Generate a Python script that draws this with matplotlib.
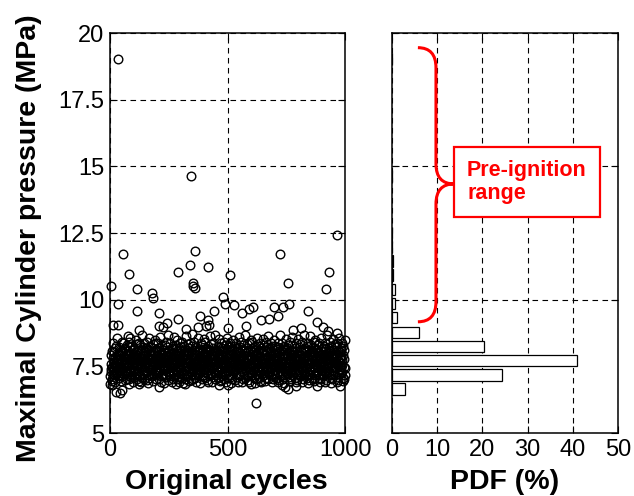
import numpy as np
import matplotlib
matplotlib.use("Agg")
import matplotlib.pyplot as plt
from matplotlib.path import Path
from matplotlib.patches import PathPatch

plt.rcParams['font.family'] = ['Liberation Sans', 'DejaVu Sans']

# ---------------- data ----------------
# Peak pressure of the normal-combustion band, cycles 1..1000 (MPa)
band_pressure = [
    7.14, 6.83, 7.41, 7.92, 7.27, 7.58, 6.95, 8.06, 7.03, 7.49, 7.81, 7.22, 7.36, 8.37, 7.68, 7.44, 7.61, 8.02, 7.19, 7.53, 6.91, 7.84, 8.17, 7.72, 7.28,
    7.63, 8.26, 7.24, 7.87, 7.52, 8.58, 7.13, 7.74, 7.97, 7.42, 7.79, 7.06, 8.21, 7.57, 7.33, 7.93, 8.12, 7.46, 7.18, 7.69, 8.08, 6.94, 7.83, 7.39, 8.43,
    7.71, 7.34, 8.03, 7.47, 7.88, 7.12, 8.36, 7.64, 7.23, 7.77, 8.14, 7.38, 7.66, 6.97, 8.19, 7.54, 7.91, 7.26, 8.09, 7.59, 7.02, 8.31, 7.82, 7.43, 8.62,
    8.07, 7.51, 7.21, 7.94, 8.41, 7.62, 7.04, 7.76, 8.23, 7.29, 7.73, 8.56, 7.37, 7.86, 7.11, 8.01, 7.57, 7.48, 8.28, 7.17, 7.84, 7.67, 6.93, 8.13, 7.44,
    7.36, 7.89, 8.18, 7.09, 7.63, 7.98, 7.31, 7.79, 8.47, 7.52, 7.24, 7.68, 8.11, 7.56, 7.01, 7.92, 8.33, 7.41, 7.77, 7.54, 8.06, 7.16, 6.96, 8.39, 7.71,
    7.83, 7.18, 7.61, 8.29, 6.92, 7.47, 8.12, 7.88, 7.42, 8.66, 7.69, 7.07, 7.53, 7.99, 7.32, 7.81, 8.24, 7.58, 7.03, 8.38, 7.21, 7.94, 8.09, 7.37, 7.73,
    7.48, 8.04, 7.66, 7.27, 8.17, 7.87, 6.98, 7.62, 8.42, 7.19, 7.76, 6.89, 8.14, 7.51, 7.43, 8.57, 7.72, 7.08, 7.91, 8.26, 7.59, 7.38, 8.07, 7.82, 7.23,
    8.21, 7.57, 7.14, 7.79, 7.36, 8.08, 7.93, 6.94, 7.46, 8.32, 7.68, 7.22, 8.02, 7.64, 8.49, 7.31, 7.83, 7.54, 8.37, 7.04, 7.88, 7.17, 7.74, 8.13, 7.41,
    7.27, 7.92, 8.38, 7.58, 7.24, 7.81, 8.06, 7.49, 7.02, 8.19, 7.66, 7.37, 8.61, 7.86, 7.12, 7.63, 7.97, 7.78, 6.91, 7.52, 8.27, 7.71, 7.18, 8.11, 7.44,
    7.94, 7.39, 7.68, 8.12, 7.47, 6.88, 8.29, 7.82, 7.16, 7.61, 8.03, 7.09, 7.87, 8.41, 7.33, 7.74, 8.22, 7.53, 7.42, 8.07, 6.99, 7.77, 8.68, 7.57, 7.21,
    7.62, 8.09, 7.28, 7.51, 8.36, 7.84, 7.13, 7.91, 7.96, 7.19, 7.72, 8.17, 6.93, 7.58, 7.38, 8.27, 7.79, 7.46, 7.04, 8.14, 7.67, 7.23, 8.59, 7.89, 7.41,
    7.98, 7.54, 7.76, 7.17, 7.92, 8.31, 7.36, 7.63, 8.08, 7.02, 7.69, 8.48, 7.29, 7.81, 7.11, 7.87, 8.19, 7.57, 7.43, 6.92, 8.13, 7.49, 7.73, 8.39, 7.24,
    7.42, 8.21, 7.71, 7.99, 7.07, 7.59, 7.88, 8.43, 7.26, 7.83, 6.87, 7.52, 8.06, 7.18, 7.93, 8.28, 7.64, 7.03, 7.68, 8.12, 7.47, 8.63, 7.37, 7.79, 7.22,
    7.74, 7.12, 8.11, 7.48, 7.81, 8.33, 7.17, 7.91, 7.62, 8.02, 7.39, 6.94, 8.18, 7.66, 7.32, 7.77, 8.37, 7.54, 6.98, 7.89, 8.07, 7.58, 7.21, 8.71, 7.43,
    8.27, 7.61, 7.38, 7.86, 7.04, 8.13, 7.72, 7.19, 8.41, 7.46, 7.83, 7.97, 7.08, 7.57, 8.22, 7.41, 6.91, 7.94, 8.09, 7.69, 7.28, 7.53, 8.58, 7.78, 7.16,
    7.23, 7.79, 8.04, 7.49, 8.16, 7.31, 7.88, 7.56, 8.12, 6.89, 7.67, 8.38, 7.44, 7.82, 7.01, 8.29, 7.52, 7.93, 7.18, 8.06, 7.63, 7.36, 7.74, 8.52, 7.09,
    7.87, 7.29, 7.64, 8.41, 7.68, 7.06, 8.14, 7.47, 7.84, 8.19, 6.97, 7.59, 7.91, 8.02, 7.37, 6.93, 8.26, 7.73, 7.22, 7.54, 8.08, 7.81, 7.42, 8.63, 7.17,
    7.52, 8.12, 7.77, 7.19, 8.32, 7.66, 7.43, 7.98, 6.92, 7.89, 7.61, 8.17, 7.11, 7.48, 8.39, 7.83, 7.27, 7.57, 8.06, 7.03, 7.92, 7.24, 8.69, 7.71, 7.38,
    8.09, 7.72, 7.17, 7.93, 7.46, 8.03, 7.39, 8.27, 7.62, 7.08, 7.81, 8.51, 7.32, 7.67, 7.88, 6.94, 8.22, 7.53, 7.41, 8.13, 7.58, 6.99, 7.76, 8.36, 7.21,
    7.59, 7.43, 8.18, 7.84, 7.12, 7.91, 8.07, 7.47, 7.28, 8.42, 7.73, 7.02, 8.01, 7.64, 7.23, 7.79, 8.31, 6.91, 7.54, 7.87, 8.14, 7.37, 7.69, 8.57, 7.19,
    7.81, 7.97, 7.48, 7.32, 8.23, 7.68, 7.92, 7.07, 8.38, 7.62, 7.18, 8.11, 7.41, 7.76, 6.88, 7.94, 8.27, 7.51, 7.71, 7.04, 8.06, 7.57, 7.24, 8.47, 7.39,
    7.31, 7.88, 8.12, 7.63, 7.37, 8.28, 6.98, 7.82, 7.67, 8.04, 7.21, 7.49, 8.36, 7.93, 7.09, 7.58, 8.19, 7.42, 6.93, 7.77, 8.08, 7.72, 7.46, 8.61, 7.16,
    8.03, 7.47, 7.73, 8.21, 7.18, 7.84, 8.42, 7.39, 7.61, 7.87, 6.91, 8.14, 7.27, 7.69, 8.29, 7.02, 7.53, 7.92, 8.07, 7.56, 7.23, 7.79, 8.67, 7.42, 7.08,
    7.68, 8.17, 7.36, 7.62, 7.99, 7.12, 7.94, 8.32, 7.48, 7.19, 7.83, 8.09, 6.97, 7.74, 7.41, 8.37, 7.59, 6.92, 7.88, 8.13, 7.52, 7.29, 7.77, 8.49, 7.24,
    7.49, 7.82, 8.08, 7.17, 7.86, 8.41, 7.57, 7.33, 8.02, 7.66, 7.06, 7.91, 8.24, 7.38, 7.63, 6.89, 8.28, 7.76, 7.47, 7.03, 8.11, 7.71, 7.22, 8.56, 7.43,
    7.92, 7.21, 7.68, 8.04, 7.46, 8.27, 7.37, 7.84, 7.08, 8.12, 7.58, 8.39, 7.27, 7.88, 6.96, 7.72, 8.18, 7.53, 6.91, 7.79, 8.07, 7.61, 7.42, 8.53, 7.18,
    7.38, 8.13, 7.57, 7.93, 8.29, 7.16, 7.78, 7.52, 7.97, 6.94, 7.73, 8.22, 7.07, 7.62, 8.43, 7.86, 7.29, 7.81, 7.47, 8.06, 7.01, 7.67, 7.39, 8.64, 7.23,
    8.18, 7.63, 7.28, 7.82, 7.46, 8.03, 7.87, 7.12, 8.36, 7.69, 7.41, 8.09, 6.92, 7.58, 7.94, 8.27, 7.18, 7.52, 7.77, 7.04, 8.12, 7.73, 7.36, 8.48, 7.21,
    7.57, 7.91, 8.26, 7.37, 7.72, 7.08, 8.14, 7.79, 7.48, 8.01, 7.23, 7.86, 8.39, 7.27, 7.61, 6.93, 8.21, 7.84, 7.53, 6.99, 8.08, 7.68, 7.42, 8.66, 7.17,
    7.79, 7.32, 7.64, 8.07, 7.89, 7.51, 8.37, 7.19, 7.71, 7.98, 7.02, 7.83, 8.16, 7.39, 6.88, 7.59, 8.28, 7.92, 7.47, 7.11, 8.13, 7.66, 7.43, 8.51, 7.24,
    7.53, 7.99, 7.81, 7.22, 8.19, 7.62, 7.87, 7.38, 8.31, 7.09, 7.73, 8.06, 7.46, 6.94, 7.78, 8.42, 7.28, 7.57, 7.93, 7.03, 8.11, 7.69, 7.41, 8.59, 7.16,
    8.06, 7.43, 7.68, 7.92, 7.19, 8.02, 7.61, 8.28, 7.52, 7.77, 7.07, 8.17, 7.88, 7.31, 7.58, 8.38, 6.91, 7.74, 7.49, 8.09, 6.98, 7.82, 7.37, 8.54, 7.23,
    7.72, 7.88, 7.29, 8.23, 7.59, 7.38, 7.97, 7.81, 7.13, 8.32, 7.47, 7.94, 8.08, 7.18, 7.67, 6.92, 8.41, 7.63, 7.51, 7.02, 8.14, 7.76, 7.42, 8.68, 7.21,
    7.27, 7.83, 8.09, 7.53, 7.86, 8.18, 7.17, 7.71, 7.44, 8.03, 7.62, 7.08, 8.27, 7.91, 7.48, 6.89, 7.79, 8.36, 7.57, 6.97, 8.12, 7.73, 7.39, 8.62, 7.19,
    7.91, 7.47, 7.23, 8.04, 7.66, 7.38, 8.29, 7.61, 7.84, 7.06, 8.08, 7.93, 7.27, 8.21, 7.53, 7.58, 6.94, 8.43, 7.69, 7.01, 8.13, 7.77, 7.36, 8.49, 7.17,
    7.58, 8.16, 7.82, 7.28, 7.49, 8.11, 7.87, 7.19, 8.02, 7.71, 7.43, 8.31, 7.08, 7.63, 7.94, 8.37, 7.52, 6.91, 7.81, 7.04, 8.07, 7.67, 7.38, 8.57, 7.22,
    7.97, 7.68, 7.37, 7.91, 8.19, 7.54, 7.12, 7.79, 8.26, 7.57, 7.18, 7.88, 8.09, 7.32, 7.72, 6.93, 8.38, 7.46, 7.83, 6.98, 8.14, 7.62, 7.43, 8.67, 7.24,
    7.42, 7.77, 8.04, 7.59, 7.23, 8.18, 7.66, 7.92, 7.29, 8.07, 7.51, 8.41, 7.06, 7.84, 7.63, 6.88, 8.28, 7.87, 7.47, 7.03, 8.11, 7.71, 7.36, 8.52, 7.18,
    7.83, 7.48, 7.89, 8.13, 7.31, 7.61, 8.32, 7.17, 7.68, 7.98, 7.42, 7.81, 8.21, 7.09, 7.93, 6.92, 7.57, 8.39, 7.53, 6.97, 8.08, 7.74, 7.38, 8.58, 7.21,
    7.69, 8.02, 7.41, 7.78, 7.62, 8.17, 7.49, 7.86, 7.24, 8.11, 7.28, 7.73, 8.36, 7.56, 7.07, 6.94, 7.91, 8.27, 7.46, 7.02, 8.13, 7.79, 7.43, 8.48, 7.16,
]
band_cycles = np.arange(1, len(band_pressure) + 1)

# Scattered cycles outside the main band (cycle index, MPa)
outlier_cycles = [34, 346, 966, 54, 363, 725, 340, 417, 81, 291, 511, 930, 3, 352, 355, 363, 757,
                  116, 177, 182, 920, 479, 34, 489, 528, 116, 209, 291, 383, 444, 563, 590, 610,
                  577, 699, 736, 763, 716, 844, 881, 905, 929, 967, 641, 675, 416, 423, 409, 373,
                  207, 241, 227, 125, 14, 35, 323, 503, 813, 777,
                  623, 43, 26, 50, 7, 210, 745, 759, 731, 979, 790, 880, 500, 465, 600, 125, 80, 280, 320]
outlier_pressure = [19.02, 14.64, 12.42, 11.70, 11.82, 11.70, 11.30, 11.21, 10.97, 11.02, 10.94, 11.02, 10.52, 10.62, 10.50, 10.45, 10.62,
                    10.39, 10.26, 10.05, 10.39, 10.11, 9.85, 9.84, 9.79, 9.59, 9.49, 9.29, 9.39, 9.57, 9.49, 9.64, 9.74,
                    9.01, 9.74, 9.71, 9.84, 9.39, 9.57, 9.16, 8.99, 8.84, 8.76, 9.24, 9.26, 9.24, 9.05, 9.01, 8.96,
                    9.01, 9.14, 8.99, 8.86, 9.05, 9.05, 8.89, 8.93, 8.93, 8.86,
                    6.12, 6.49, 6.55, 6.61, 6.80, 6.71, 6.71, 6.64, 6.80, 6.76, 6.75, 6.75, 6.80, 6.80, 6.82, 6.82, 6.82, 6.85, 6.85]

# Histogram (right panel): bin centres (MPa) and PDF (%)
hist_centers = [6.65, 7.18, 7.72, 8.25, 8.78, 9.32, 9.85, 10.38, 10.92, 11.45, 11.98, 12.51, 14.64, 19.02]
hist_pdf = [2.9, 24.4, 41.0, 20.4, 6.0, 1.2, 0.75, 0.75, 0.2, 0.2, 0.1, 0.1, 0.1, 0.1]
bin_width = 0.533

left_yticks = [5, 7.5, 10, 12.5, 15, 17.5, 20]
left_yticklabels = ["5", "7.5", "10", "12.5", "15", "17.5", "20"]
left_xticks = [0, 500, 1000]
right_xticks = [0, 10, 20, 30, 40, 50]
right_yticks = [5, 10, 15, 20]

# ---------------- figure ----------------
W, H = 634, 496
fig = plt.figure(figsize=(W / 100, H / 100), dpi=100)
ax1 = fig.add_axes([110 / W, 63 / H, 235 / W, 400 / H])
ax2 = fig.add_axes([392 / W, 63 / H, 226 / W, 400 / H])

grid_kw = dict(color='black', linestyle=(0, (5, 4)), linewidth=0.8)

# Left: scatter
mk = dict(linestyle='none', marker='o', mfc='none', mec='black', ms=6.2, mew=1.0, clip_on=False)
ax1.plot(band_cycles, band_pressure, **mk)
ax1.plot(outlier_cycles, outlier_pressure, **mk)
ax1.set_xlim(0, 1000)
ax1.set_ylim(5, 20)
ax1.set_xticks(left_xticks)
ax1.set_yticks(left_yticks)
ax1.set_yticklabels(left_yticklabels)
ax1.grid(True, **grid_kw)

# Right: horizontal histogram
ax2.barh(hist_centers, hist_pdf, height=0.8 * bin_width, color='white',
         edgecolor='black', linewidth=0.9, zorder=2)
ax2.set_xlim(0, 50)
ax2.set_ylim(5, 20)
ax2.set_xticks(right_xticks)
ax2.set_yticks(right_yticks)
ax2.set_yticklabels([])
ax2.grid(True, **grid_kw)
ax2.set_axisbelow(True)

for ax in (ax1, ax2):
    ax.tick_params(direction='in', length=5, width=0.8, top=True, right=True,
                   labelsize=17, pad=4)
    for s in ax.spines.values():
        s.set_linewidth(1.1)

# Labels
fig.text(29 / W, 1 - 238 / H, 'Maximal Cylinder pressure (MPa)', rotation=90,
         ha='center', va='center', fontsize=20.5, fontweight='bold')
fig.text(226 / W, 1 - 489 / H, 'Original cycles', ha='center', va='baseline',
         fontsize=20.5, fontweight='bold')
fig.text(505 / W, 1 - 489 / H, 'PDF (%)', ha='center', va='baseline',
         fontsize=20.5, fontweight='bold')

# Red curly brace annotation
xb, r_x, r_y = 9.73, 4.0, 0.75
top, mid, bot = 19.45, 14.34, 9.17
verts = [(xb - r_x, top), (xb, top), (xb, top - r_y),
         (xb, mid + r_y),
         (xb, mid), (xb + r_x, mid),
         (xb, mid), (xb, mid - r_y),
         (xb, bot + r_y),
         (xb, bot), (xb - r_x, bot)]
codes = [Path.MOVETO, Path.CURVE3, Path.CURVE3,
         Path.LINETO,
         Path.CURVE3, Path.CURVE3,
         Path.CURVE3, Path.CURVE3,
         Path.LINETO,
         Path.CURVE3, Path.CURVE3]
ax2.add_patch(PathPatch(Path(verts, codes), facecolor='none', edgecolor='red',
                        linewidth=2.2, capstyle='butt', zorder=5, clip_on=False))

ax2.text(16.6, 14.41, 'Pre-ignition\nrange', color='red', fontsize=15.5, fontweight='bold',
         ha='left', va='center', linespacing=1.15, zorder=6,
         bbox=dict(boxstyle='square,pad=0.6', facecolor='white', edgecolor='red', linewidth=1.6))

fig.savefig('out.png', dpi=100)
